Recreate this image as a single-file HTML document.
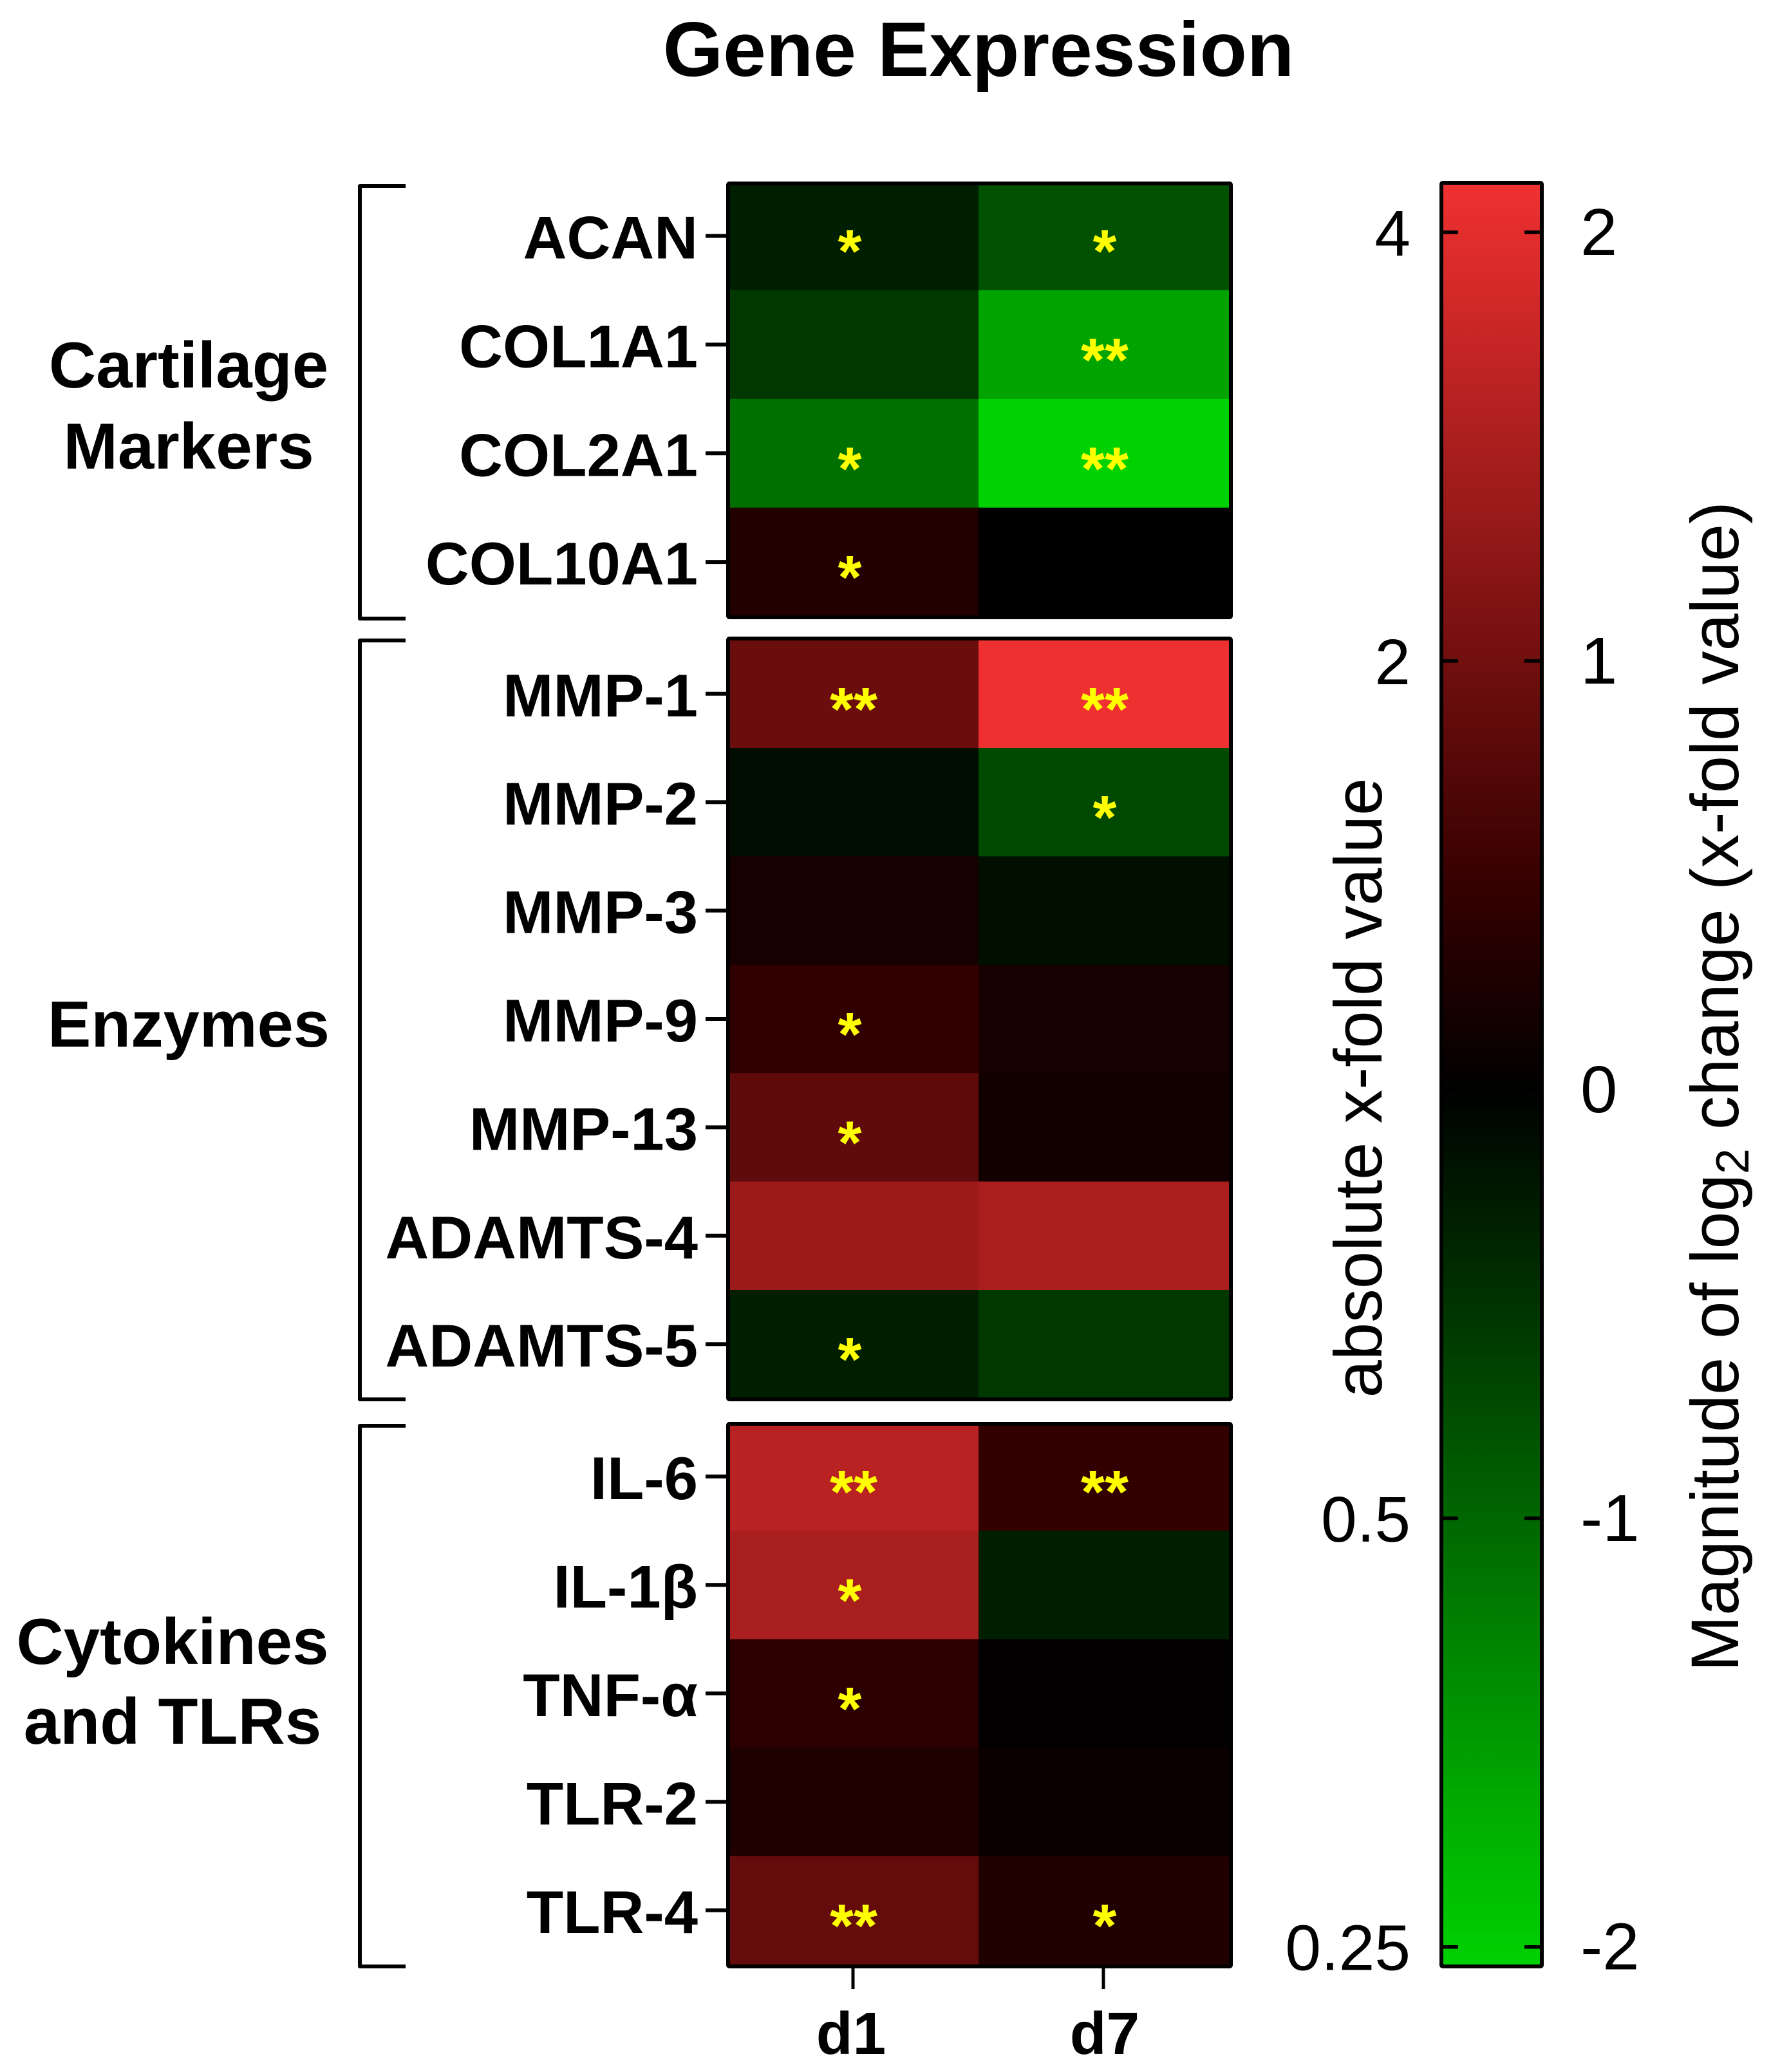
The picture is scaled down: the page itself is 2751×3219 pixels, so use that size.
<!DOCTYPE html>
<html lang="en">
<head>
<meta charset="utf-8">
<title>Gene Expression</title>
<style>
html,body{margin:0;padding:0;background:#fff;}
svg{display:block;}
text{font-family:"Liberation Sans",Arial,sans-serif;fill:#000;}
.b{font-weight:bold;}
</style>
</head>
<body>
<svg id="chart" xmlns="http://www.w3.org/2000/svg" width="2751" height="3219" viewBox="0 0 2751 3219">
  <rect x="0" y="0" width="2751" height="3219" fill="#fff"/>
  <text class="b" x="1520" y="118" font-size="120" text-anchor="middle">Gene Expression</text>
  <g class="b" font-size="101.5" text-anchor="middle">
    <text class="b" x="293" y="602">Cartilage</text>
    <text class="b" x="293" y="728">Markers</text>
  </g>
  <text class="b" x="293" y="1626" font-size="101" text-anchor="middle">Enzymes</text>
  <g font-size="101.5" text-anchor="middle">
    <text class="b" x="268" y="2585">Cytokines</text>
    <text class="b" x="268" y="2709">and TLRs</text>
  </g>
  <text transform="translate(2146,1690) rotate(-90)" font-size="105" text-anchor="middle">absolute x-fold value</text>
  <text transform="translate(2700,1688) rotate(-90)" font-size="104.5" text-anchor="middle">Magnitude of log<tspan font-size="72" dy="16">2</tspan><tspan dy="-16"> change (x-fold value)</tspan></text>
  <defs>
    <linearGradient id="cbGrad" x1="0" y1="0" x2="0" y2="1"></linearGradient>
  </defs>
  <g id="layer"></g>
</svg>
<script>
var groupNames = ["cartilage-markers", "enzymes", "cytokines-and-tlrs"];
var genesCartilage = ["ACAN", "COL1A1", "COL2A1", "COL10A1"];
var genesEnzymes = ["MMP-1", "MMP-2", "MMP-3", "MMP-9", "MMP-13", "ADAMTS-4", "ADAMTS-5"];
var genesCytokines = ["IL-6", "IL-1\u03b2", "TNF-\u03b1", "TLR-2", "TLR-4"];
var timepoints = ["d1", "d7"];

var valuesCartilageD1 = [-0.3, -0.55, -1.1, 0.3];
var valuesCartilageD7 = [-0.8, -1.6, -2.05, 0];
var valuesEnzymesD1 = [0.94, -0.13, 0.2, 0.42, 0.85, 1.38, -0.3];
var valuesEnzymesD7 = [2.1, -0.72, -0.15, 0.19, 0.16, 1.5, -0.55];
var valuesCytokinesD1 = [1.63, 1.49, 0.39, 0.27, 0.88];
var valuesCytokinesD7 = [0.45, -0.3, 0.02, 0.1, 0.28];

var starsCartilageD1 = ["*", "", "*", "*"];
var starsCartilageD7 = ["*", "**", "**", ""];
var starsEnzymesD1 = ["**", "", "", "*", "*", "", "*"];
var starsEnzymesD7 = ["**", "*", "", "", "", "", ""];
var starsCytokinesD1 = ["**", "*", "*", "", "**"];
var starsCytokinesD7 = ["**", "", "", "", "*"];

var scaleMagnitudeTicks = [2, 1, 0, -1, -2];
var scaleMagnitudeLabels = ["2", "1", "0", "-1", "-2"];
var scaleFoldTicks = [2, 1, -1, -2];
var scaleFoldLabels = ["4", "2", "0.5", "0.25"];

var svgNS = "http://www.w3.org/2000/svg";
var layer = document.getElementById("layer");

function make(tag, attrs, parent) {
  var e = document.createElementNS(svgNS, tag);
  for (var k in attrs) { e.setAttribute(k, attrs[k]); }
  (parent || layer).appendChild(e);
  return e;
}

function colorOf(v) {
  if (v >= 0) {
    var r = Math.min(255, v * 113.3);
    var gb = Math.max(0, v - 0.5) * 30;
    return "rgb(" + Math.round(r) + "," + Math.round(gb) + "," + Math.round(gb) + ")";
  }
  return "rgb(0," + Math.round(Math.min(255, -v * 102)) + ",0)";
}

function xScale(i) { return 1134 + i * 386; }
var colWidth = 392;
var colCenters = [1326, 1716];

var panels = [
  { top: 282, bottom: 962, rowTop: 282, rowH: 168.9, genes: genesCartilage, vals: [valuesCartilageD1, valuesCartilageD7], stars: [starsCartilageD1, starsCartilageD7] },
  { top: 989, bottom: 2177, rowTop: 993.6, rowH: 168.4, genes: genesEnzymes, vals: [valuesEnzymesD1, valuesEnzymesD7], stars: [starsEnzymesD1, starsEnzymesD7] },
  { top: 2209, bottom: 3058, rowTop: 2209.5, rowH: 168.5, genes: genesCytokines, vals: [valuesCytokinesD1, valuesCytokinesD7], stars: [starsCytokinesD1, starsCytokinesD7] }
];

panels.forEach(function (p, g) {
  function yScale(i) { return p.rowTop + i * p.rowH; }
  var grp = make("g", {});
  
  

  p.genes.forEach(function (gene, r) {
    timepoints.forEach(function (tp, c) {
      var cell = make("rect", { x: xScale(c), y: yScale(r), width: colWidth, height: p.rowH + 0.5, fill: colorOf(p.vals[c][r]) }, grp);
      
      
    });
  });

  var frame = make("rect", { x: 1131, y: p.top + 3, width: 781, height: p.bottom - p.top - 6, fill: "none", stroke: "#000", "stroke-width": 6, rx: 2 }, grp);
  
  

  p.genes.forEach(function (gene, r) {
    var cy = yScale(r) + p.rowH / 2;
    var tick = make("line", { x1: 1096, x2: 1129, y1: cy, y2: cy, stroke: "#000", "stroke-width": 6 }, grp);
    
    

    var lab = make("text", { x: 1084, y: cy + 35, "font-size": 94, "text-anchor": "end", "class": "b" }, grp);
    lab.textContent = gene;
    
    

    timepoints.forEach(function (tp, c) {
      var s = p.stars[c][r];
      if (!s) { return; }
      var dx = (c === 0 && s.length === 1) ? -6 : 0;
      var st = make("text", { x: colCenters[c] + dx, y: cy + 56, "font-size": 95, "text-anchor": "middle", "class": "b" }, grp);
      st.style.fill = "#ffff00";
      st.textContent = s;
      
      
    });
  });

  var by1 = p.top + 3 + (g === 0 ? 4 : 3);
  var by2 = p.bottom - 3 + (g === 0 ? 2 : 0);
  var br = make("path", { d: "M630," + by1 + "H559V" + by2 + "H630", fill: "none", stroke: "#000", "stroke-width": 6, "stroke-linejoin": "round" });
  
  
});

timepoints.forEach(function (tp, c) {
  var tick = make("line", { x1: [1325, 1714][c], x2: [1325, 1714][c], y1: 3056, y2: 3090, stroke: "#000", "stroke-width": 5 });
  
  

  var lab = make("text", { x: [1322, 1716][c], y: 3191, "font-size": 93, "text-anchor": "middle", "class": "b" });
  lab.textContent = tp;
  
  
});

/* colour bar */
var cbTop = 281, cbBottom = 3058, cbMax = 2.12, cbMin = -2.05;
function cbScale(v) { return cbTop + (cbMax - v) / (cbMax - cbMin) * (cbBottom - cbTop); }

var grad = document.getElementById("cbGrad");
for (var n = 0; n <= 60; n++) {
  var t = n / 60;
  var stop = make("stop", { offset: t, "stop-color": colorOf(cbMax + (cbMin - cbMax) * t) }, grad);
}

var cbFill = make("rect", { x: 2239, y: cbTop + 3, width: 156, height: cbBottom - cbTop - 6, fill: "url(#cbGrad)" });



var cbFrame = make("rect", { x: 2239, y: cbTop + 3, width: 156, height: cbBottom - cbTop - 6, fill: "none", stroke: "#000", "stroke-width": 6, rx: 2 });



scaleMagnitudeTicks.forEach(function (v, i) {
  var y = cbScale(v);
  var tl = make("line", { x1: 2240, x2: 2265, y1: y, y2: y, stroke: "#000", "stroke-width": 5.5 });
  
  

  var tr = make("line", { x1: 2368, x2: 2394, y1: y, y2: y, stroke: "#000", "stroke-width": 5.5 });
  
  

  var lab = make("text", { x: 2455, y: y + 35, "font-size": 103 });
  lab.textContent = scaleMagnitudeLabels[i];
  
  
});

scaleFoldTicks.forEach(function (v, i) {
  var lab = make("text", { x: 2191, y: cbScale(v) + 36, "font-size": 100, "text-anchor": "end" });
  lab.textContent = scaleFoldLabels[i];
  
  
});
</script>
</body>
</html>
